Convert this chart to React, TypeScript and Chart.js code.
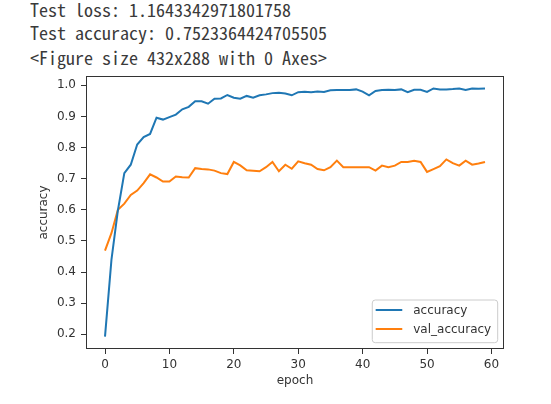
import React, { useEffect, useRef } from "react";
import { Chart, registerables } from "chart.js";

Chart.register(...registerables);

const outputLines = [
  "Test loss: 1.1643342971801758",
  "Test accuracy: 0.7523364424705505",
  "<Figure size 432x288 with 0 Axes>",
];

const epochs = [
  0, 1, 2, 3, 4, 5, 6, 7, 8, 9, 10, 11, 12, 13, 14, 15, 16, 17, 18, 19,
  20, 21, 22, 23, 24, 25, 26, 27, 28, 29, 30, 31, 32, 33, 34, 35, 36, 37, 38, 39,
  40, 41, 42, 43, 44, 45, 46, 47, 48, 49, 50, 51, 52, 53, 54, 55, 56, 57, 58, 59,
];

const accuracy = [
  0.193, 0.439, 0.598, 0.718, 0.745, 0.81, 0.834, 0.844, 0.896, 0.89,
  0.898, 0.906, 0.923, 0.931, 0.949, 0.949, 0.941, 0.957, 0.958, 0.969,
  0.96, 0.957, 0.966, 0.96, 0.968, 0.971, 0.975, 0.976, 0.974, 0.968,
  0.978, 0.979, 0.978, 0.98, 0.979, 0.984, 0.985, 0.985, 0.985, 0.987,
  0.98, 0.968, 0.982, 0.985, 0.986, 0.985, 0.987, 0.978, 0.986, 0.986,
  0.979, 0.99, 0.987, 0.987, 0.988, 0.99, 0.985, 0.99, 0.989, 0.99,
];

const valAccuracy = [
  0.469, 0.525, 0.6, 0.62, 0.648, 0.662, 0.686, 0.714, 0.704, 0.691,
  0.691, 0.707, 0.705, 0.704, 0.734, 0.731, 0.73, 0.726, 0.718, 0.715,
  0.754, 0.743, 0.727, 0.726, 0.724, 0.737, 0.754, 0.724, 0.745, 0.732,
  0.756, 0.75, 0.745, 0.731, 0.727, 0.737, 0.758, 0.737, 0.737, 0.737,
  0.737, 0.737, 0.726, 0.742, 0.737, 0.742, 0.754, 0.754, 0.758, 0.754,
  0.722, 0.731, 0.74, 0.762, 0.75, 0.742, 0.758, 0.745, 0.749, 0.754,
];

const xTickValues = [0, 10, 20, 30, 40, 50, 60];
const yTickValues = [0.2, 0.3, 0.4, 0.5, 0.6, 0.7, 0.8, 0.9, 1.0];

const seriesLabels = ["accuracy", "val_accuracy"];
const seriesColors = ["#1f77b4", "#ff7f0e"];

const FONT = "'DejaVu Sans', sans-serif";
const TEXT_COLOR = "#333";

const framePlugin = {
  id: "frameAndLegend",
  afterDraw(chart: any) {
    const { ctx, chartArea } = chart;
    const { left, right, top, bottom } = chartArea;
    ctx.save();
    ctx.strokeStyle = "#333";
    ctx.lineWidth = 1;
    ctx.strokeRect(
      Math.round(left) + 0.5,
      Math.round(top) + 0.5,
      Math.round(right - left) - 1,
      Math.round(bottom - top) - 1
    );
    ctx.font = "12px " + FONT;
    const datasets = chart.data.datasets;
    let maxW = 0;
    datasets.forEach((d: any) => {
      maxW = Math.max(maxW, ctx.measureText(d.label).width);
    });
    const boxW = 41 + maxW + 6.5;
    const boxH = 42.7;
    const bx = right - 6.3 - boxW;
    const by = bottom - 6.3 - boxH;
    const r = 3;
    ctx.beginPath();
    ctx.moveTo(bx + r, by);
    ctx.lineTo(bx + boxW - r, by);
    ctx.quadraticCurveTo(bx + boxW, by, bx + boxW, by + r);
    ctx.lineTo(bx + boxW, by + boxH - r);
    ctx.quadraticCurveTo(bx + boxW, by + boxH, bx + boxW - r, by + boxH);
    ctx.lineTo(bx + r, by + boxH);
    ctx.quadraticCurveTo(bx, by + boxH, bx, by + boxH - r);
    ctx.lineTo(bx, by + r);
    ctx.quadraticCurveTo(bx, by, bx + r, by);
    ctx.closePath();
    ctx.fillStyle = "rgba(255,255,255,0.8)";
    ctx.fill();
    ctx.strokeStyle = "#cccccc";
    ctx.lineWidth = 1;
    ctx.stroke();
    datasets.forEach((d: any, i: number) => {
      const ly = by + 10 + i * 19;
      ctx.strokeStyle = d.borderColor;
      ctx.lineWidth = 2;
      ctx.beginPath();
      ctx.moveTo(bx + 3.4, ly);
      ctx.lineTo(bx + 30, ly);
      ctx.stroke();
      ctx.fillStyle = TEXT_COLOR;
      ctx.textBaseline = "middle";
      ctx.textAlign = "left";
      ctx.fillText(d.label, bx + 41, ly + 1);
    });
    ctx.restore();
  },
};

const lineTops = [-2, 20.5, 46];

export default function App() {
  const canvasRef = useRef<HTMLCanvasElement | null>(null);

  useEffect(() => {
    const canvas = canvasRef.current;
    if (!canvas) return;
    const chart = new Chart(canvas, {
      type: "line",
      data: {
        datasets: [
          {
            label: seriesLabels[0],
            data: epochs.map((e, i) => ({ x: e, y: accuracy[i] })),
            borderColor: seriesColors[0],
            backgroundColor: seriesColors[0],
            borderWidth: 2,
            pointRadius: 0,
            tension: 0,
          },
          {
            label: seriesLabels[1],
            data: epochs.map((e, i) => ({ x: e, y: valAccuracy[i] })),
            borderColor: seriesColors[1],
            backgroundColor: seriesColors[1],
            borderWidth: 2,
            pointRadius: 0,
            tension: 0,
          },
        ],
      },
      options: {
        animation: false,
        responsive: false,
        devicePixelRatio: 1,
        layout: { padding: { left: 0, right: 47, top: 16, bottom: 0 } },
        plugins: {
          legend: { display: false },
          tooltip: { enabled: false },
        },
        scales: {
          x: {
            type: "linear",
            min: -2.95,
            max: 61.95,
            afterBuildTicks: (scale: any) => {
              scale.ticks = xTickValues.map((v) => ({ value: v }));
            },
            afterFit: (scale: any) => {
              scale.height = 55;
            },
            grid: {
              drawOnChartArea: false,
              drawTicks: true,
              tickLength: 5,
              color: "#333",
            },
            border: { display: false },
            ticks: {
              font: { size: 12, family: FONT },
              color: TEXT_COLOR,
              padding: 4,
              maxRotation: 0,
              autoSkip: false,
              callback: (v: any) => String(v),
            },
            title: {
              display: true,
              text: "epoch",
              font: { size: 12, family: FONT },
              color: TEXT_COLOR,
              padding: { top: 0, bottom: 16 },
            },
          },
          y: {
            type: "linear",
            min: 0.153,
            max: 1.03,
            afterBuildTicks: (scale: any) => {
              scale.ticks = yTickValues.map((v) => ({ value: v }));
            },
            afterFit: (scale: any) => {
              scale.width = 86;
            },
            grid: {
              drawOnChartArea: false,
              drawTicks: true,
              tickLength: 5,
              color: "#333",
            },
            border: { display: false },
            ticks: {
              font: { size: 12, family: FONT },
              color: TEXT_COLOR,
              padding: 5,
              autoSkip: false,
              callback: (v: any) => Number(v).toFixed(1),
            },
            title: {
              display: true,
              text: "accuracy",
              font: { size: 12, family: FONT },
              color: TEXT_COLOR,
              padding: { top: 37, bottom: 0 },
            },
          },
        },
      },
      plugins: [framePlugin],
    } as any);
    return () => chart.destroy();
  }, []);

  return (
    <div
      style={{
        position: "fixed",
        left: 0,
        top: 0,
        width: 551,
        height: 404,
        background: "#fff",
        overflow: "hidden",
      }}
    >
      {outputLines.map((l, i) => (
        <div
          key={i}
          style={{
            position: "absolute",
            left: 30,
            top: lineTops[i],
            fontFamily: "'Noto Sans Mono CJK JP', 'DejaVu Sans Mono', monospace",
            fontSize: 18,
            fontWeight: 300,
            lineHeight: "22.5px",
            whiteSpace: "pre",
            color: "#3a3a3a",
          }}
        >
          {l}
        </div>
      ))}
      <canvas
        ref={canvasRef}
        width={551}
        height={344}
        style={{ position: "absolute", left: 0, top: 60, width: 551, height: 344 }}
      />
    </div>
  );
}
